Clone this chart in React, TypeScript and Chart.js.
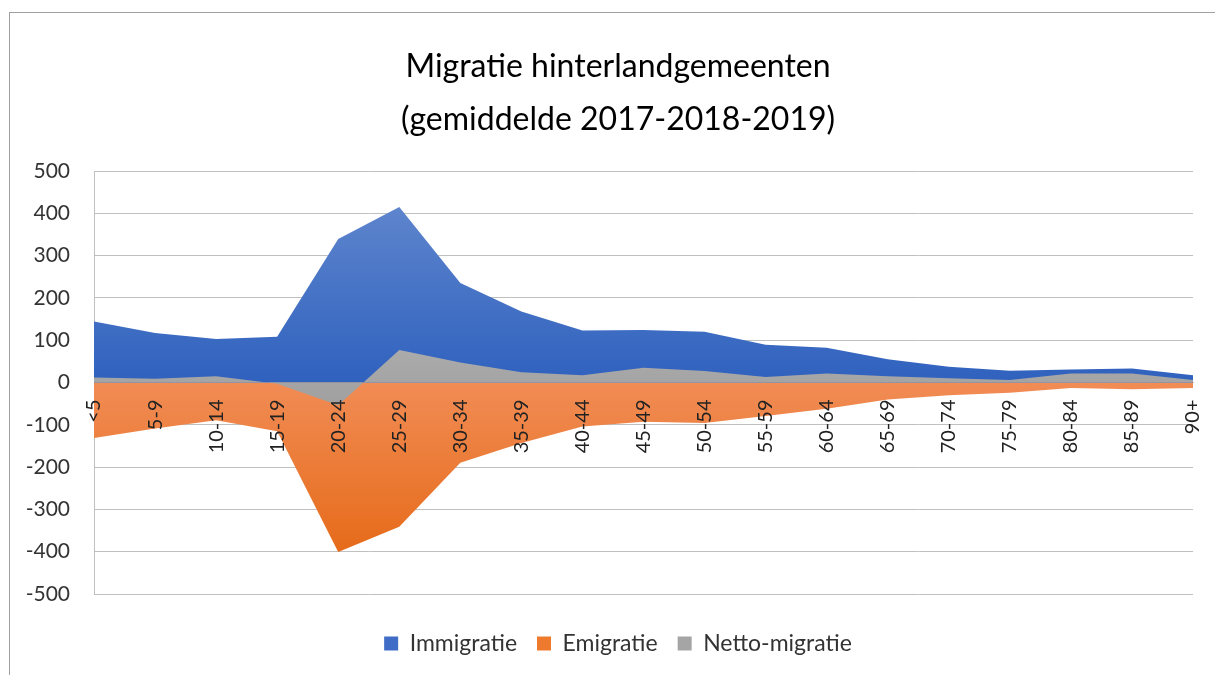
import React, { useEffect, useRef } from 'react';
import { Chart, registerables } from 'chart.js';

Chart.register(...registerables);

const categories = ['<5', '5-9', '10-14', '15-19', '20-24', '25-29', '30-34', '35-39', '40-44', '45-49', '50-54', '55-59', '60-64', '65-69', '70-74', '75-79', '80-84', '85-89', '90+'];
const immigratie = [144, 117, 103, 108, 339, 415, 235, 168, 123, 124, 120, 89, 82, 55, 37, 28, 31, 33, 17];
const emigratie = [-131, -109, -89, -115, -401, -341, -190, -143, -104, -93, -96, -79, -62, -40, -30, -24, -13, -16, -13];
const netto = [12, 9, 15, -3, -54, 77, 47, 24, 17, 35, 27, 13, 21, 15, 10, 6, 21, 21, 6];

const seriesNames = ['Immigratie', 'Emigratie', 'Netto-migratie'];
const legendColors = ['#3f6cc6', '#ee7a2e', '#a5a5a5'];
const titleLines = ['Migratie hinterlandgemeenten', '(gemiddelde 2017-2018-2019)'];
const yMin = -500;
const yMax = 500;
const yStep = 100;

const FONT = 'Lato, "Open Sans", sans-serif';

function gradientFill(topVal: number, bottomVal: number, topColor: string, bottomColor: string, fallback: string) {
  return (c: any) => {
    const chart = c.chart;
    const { ctx, chartArea, scales } = chart;
    if (!chartArea || !scales.y) return fallback;
    const y0 = scales.y.getPixelForValue(topVal);
    const y1 = scales.y.getPixelForValue(bottomVal);
    const g = ctx.createLinearGradient(0, y0, 0, y1);
    g.addColorStop(0, topColor);
    g.addColorStop(1, bottomColor);
    return g;
  };
}

export default function App() {
  const canvasRef = useRef<HTMLCanvasElement | null>(null);

  useEffect(() => {
    if (!canvasRef.current) return;
    const chart = new Chart(canvasRef.current, {
      type: 'line',
      data: {
        labels: categories,
        datasets: [
          {
            label: seriesNames[0],
            data: immigratie,
            xAxisID: 'x',
            yAxisID: 'y',
            fill: 'origin',
            backgroundColor: gradientFill(415, 0, '#5e85cd', '#2f61be', legendColors[0]),
            borderWidth: 0,
            pointRadius: 0,
            tension: 0,
            order: 1,
          },
          {
            label: seriesNames[1],
            data: emigratie,
            xAxisID: 'x',
            yAxisID: 'y',
            fill: 'origin',
            backgroundColor: gradientFill(0, -400, '#f18c55', '#e66b1a', legendColors[1]),
            borderWidth: 0,
            pointRadius: 0,
            tension: 0,
            order: 1,
          },
          {
            label: seriesNames[2],
            data: netto,
            xAxisID: 'x',
            yAxisID: 'y',
            fill: 'origin',
            backgroundColor: gradientFill(80, -60, '#ababab', '#9f9f9f', legendColors[2]),
            borderWidth: 0,
            pointRadius: 0,
            tension: 0,
            order: 0,
          },
        ],
      },
      options: {
        animation: false,
        responsive: false,
        maintainAspectRatio: false,
        devicePixelRatio: 1,
        layout: { padding: { left: 21, right: 0, top: 0, bottom: 10 } },
        plugins: {
          tooltip: { enabled: false },
          title: {
            display: true,
            text: titleLines,
            color: '#000000',
            font: { family: FONT, size: 32, weight: 'normal', lineHeight: 53 / 32 },
            padding: { top: 40, bottom: 25 },
          },
          legend: {
            display: true,
            position: 'bottom',
            labels: {
              font: { family: FONT, size: 23 },
              color: '#333333',
              boxWidth: 14,
              boxHeight: 14,
              padding: 20,
              sort: (a: any, b: any) => a.datasetIndex - b.datasetIndex,
              generateLabels: (ch: any) =>
                Chart.defaults.plugins.legend.labels.generateLabels(ch).map((l: any) => ({
                  ...l,
                  fillStyle: legendColors[l.datasetIndex],
                  strokeStyle: legendColors[l.datasetIndex],
                  lineWidth: 0,
                })),
            },
          },
        },
        scales: {
          x: {
            type: 'category',
            position: { y: 0 } as any,
            offset: false,
            grid: { display: false, drawTicks: false },
            border: { display: true, color: '#bfbfbf', width: 1 },
            ticks: {
              z: 1,
              autoSkip: false,
              maxRotation: 90,
              minRotation: 90,
              padding: 17,
              color: '#222222',
              font: { family: FONT, size: 20 },
            },
            afterFit: (s: any) => {
              s.paddingLeft = 0;
              s.paddingRight = 22;
              s.paddingTop = 0;
              s.paddingBottom = 0;
            },
          },
          xb: {
            type: 'category',
            axis: 'x',
            position: 'bottom',
            display: true,
            grid: { display: false, drawTicks: false },
            border: { display: false },
            ticks: { display: false },
            afterFit: (s: any) => {
              s.height = 18;
            },
          },
          y: {
            type: 'linear',
            position: 'left',
            min: yMin,
            max: yMax,
            grid: { color: '#c0c0c0', lineWidth: 1, drawTicks: false },
            border: { display: true, color: '#c0c0c0', width: 1 },
            ticks: {
              stepSize: yStep,
              padding: 24,
              color: '#333333',
              font: { family: FONT, size: 21 },
            },
            afterFit: (s: any) => {
              s.width = 73;
            },
          },
        } as any,
      },
    });
    return () => chart.destroy();
  }, []);

  return (
    <div style={{ position: 'fixed', left: 0, top: 0, width: 1215, height: 675, overflow: 'hidden', background: '#ffffff' }}>
      <div
        style={{
          position: 'absolute',
          left: 9,
          top: 12,
          width: 1400,
          height: 900,
          borderLeft: '1px solid #a0a0a0',
          borderTop: '1px solid #a0a0a0',
        }}
      />
      <canvas
        ref={canvasRef}
        width={1215}
        height={675}
        style={{ position: 'absolute', left: 0, top: 0, width: 1215, height: 675 }}
      />
    </div>
  );
}
